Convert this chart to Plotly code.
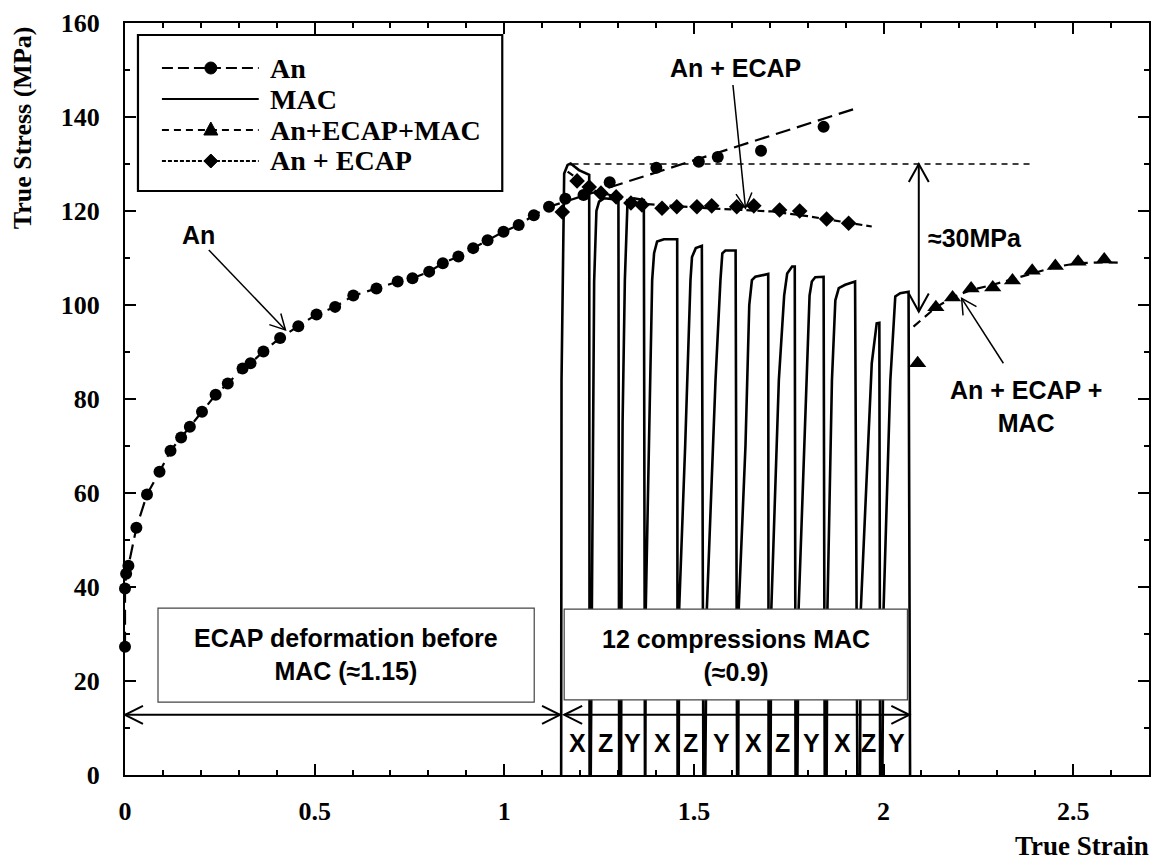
import plotly.graph_objects as go
import math

# ---------------- data ----------------
# An (annealed) : circle markers
an_x = [0.0, 0.0, 0.003, 0.009, 0.030, 0.058, 0.091, 0.120, 0.148, 0.171, 0.203, 0.239,
        0.271, 0.310, 0.331, 0.365, 0.409, 0.457, 0.505, 0.554, 0.602, 0.663, 0.719, 0.758,
        0.802, 0.838, 0.879, 0.918, 0.956, 0.998, 1.038, 1.078, 1.118, 1.161, 1.209, 1.278,
        1.401, 1.513, 1.563, 1.677, 1.842]
an_y = [27.3, 39.7, 42.8, 44.5, 52.6, 59.7, 64.5, 69.0, 71.8, 74.1, 77.3, 80.9,
        83.3, 86.5, 87.6, 90.1, 93.0, 95.5, 98.0, 99.6, 102.0, 103.5, 105.0, 105.7,
        107.1, 108.9, 110.3, 112.1, 113.8, 115.6, 117.0, 119.1, 120.9, 122.6, 123.4, 126.1,
        129.2, 130.5, 131.5, 132.8, 137.9]
# An dashed curve (through early points, then linear trend)
an_fit_x = an_x[:33] + [1.934]
an_fit_y = an_y[:33] + [142.0]

# MAC : 12 compressions (solid line)
mac_x = [1.150, 1.151, 1.158, 1.167, 1.175, 1.197, 1.224, 1.225,
         1.228, 1.231, 1.234, 1.237, 1.243, 1.250, 1.263, 1.301, 1.303,
         1.308, 1.309, 1.312, 1.318, 1.325, 1.342, 1.368, 1.371,
         1.372, 1.373, 1.382, 1.390, 1.395, 1.403, 1.421, 1.456, 1.457,
         1.460, 1.461, 1.477, 1.491, 1.495, 1.505, 1.521, 1.525,
         1.530, 1.534, 1.557, 1.570, 1.575, 1.583, 1.610, 1.614,
         1.617, 1.618, 1.636, 1.646, 1.653, 1.662, 1.696, 1.697,
         1.702, 1.704, 1.724, 1.738, 1.746, 1.759, 1.766, 1.768,
         1.773, 1.776, 1.794, 1.805, 1.811, 1.820, 1.842, 1.845,
         1.850, 1.852, 1.864, 1.873, 1.882, 1.899, 1.925, 1.931,
         1.938, 1.940, 1.969, 1.982, 1.989, 1.991,
         1.997, 2.000, 2.018, 2.031, 2.044, 2.066, 2.070]
mac_y = [0, 84, 128, 129.8, 130.1, 128.7, 127.7, 0,
         0, 35, 75, 105, 120, 122, 122.7, 122.4, 0,
         0, 35, 75, 105.3, 122, 122.7, 122.3, 0,
         0, 35, 70, 105.3, 111, 113.5, 114, 114, 0,
         0, 35, 70, 105.3, 110.2, 112.1, 112.6, 0,
         0, 35, 84, 105.3, 111, 111.6, 111.6, 0,
         0, 35, 70, 100, 105.3, 106, 106.6, 0,
         0, 35, 84, 102, 106.7, 108.2, 108.2, 0,
         0, 35, 77, 102, 105, 105.9, 106, 0,
         0, 35, 84, 101, 103.6, 104.3, 105, 0,
         0, 35, 87.6, 96.1, 96.2, 0,
         0, 35, 84, 101.8, 102.5, 102.8, 0]

# An + ECAP + MAC : triangles
tri_x = [2.090, 2.138, 2.182, 2.231, 2.288, 2.340, 2.392, 2.453, 2.513, 2.582]
tri_y = [87.6, 99.5, 101.6, 103.5, 103.7, 105.2, 107.3, 108.3, 109.2, 109.7]
tri_fit_x = [2.079, 2.138, 2.182, 2.231, 2.288, 2.340, 2.392, 2.453, 2.513, 2.582, 2.627]
tri_fit_y = [95.4, 99.5, 101.6, 103.2, 104.3, 105.5, 106.8, 108.1, 108.9, 109.1, 109.0]

# An + ECAP : diamonds
dia_x = [1.153, 1.192, 1.224, 1.255, 1.295, 1.334, 1.363, 1.416, 1.455, 1.508, 1.547,
         1.613, 1.658, 1.726, 1.779, 1.850, 1.908]
dia_y = [119.8, 126.4, 125.1, 123.8, 123.0, 121.7, 121.3, 120.6, 120.9, 120.9, 121.1,
         120.9, 121.1, 120.2, 120.0, 118.3, 117.4]
dia_fit_x = [1.167, 1.232, 1.355, 1.531, 1.706, 1.800, 1.969]
dia_fit_y = [128.4, 124.5, 121.6, 120.6, 119.9, 118.9, 116.7]

# reference level (peak stress) and drop
peak_level = 130.0
peak_x = [1.18, 2.39]
drop_x = 2.093
drop_bottom = 98.6

x_tickvals = [0, 0.5, 1, 1.5, 2, 2.5]
x_ticktext = ["0", "0.5", "1", "1.5", "2", "2.5"]
y_tickvals = [0, 20, 40, 60, 80, 100, 120, 140, 160]

sequence = ["X", "Z", "Y", "X", "Z", "Y", "X", "Z", "Y", "X", "Z", "Y"]
seq_x = [1.192, 1.268, 1.339, 1.416, 1.492, 1.574, 1.658, 1.734, 1.811, 1.892, 1.961, 2.034]

legend_names = ["An", "MAC", "An+ECAP+MAC", "An + ECAP"]
legend_dash = ["11px,5px", "solid", "7px,5px", "4px,2px"]
legend_symbol = ["circle", None, "triangle", "diamond"]

# ---------------- layout constants ----------------
W, H = 1157, 864
ML, MR, MT, MB = 125, 6, 23, 89
PW, PH = W - ML - MR, H - MT - MB
XR = [0, 2.7]
YR = [0, 160]
XS = PW / (XR[1] - XR[0])
YS = PH / (YR[1] - YR[0])

SERIF = "Liberation Serif"
SANS = "Liberation Sans"


def px_x(p):
    return (p - ML) / PW


def px_y(p):
    return (MT + PH - p) / PH


fig = go.Figure()

# data traces
fig.add_trace(go.Scatter(x=an_fit_x, y=an_fit_y, mode="lines", name="An",
                         line=dict(color="black", width=2.2, dash="15px,7px"),
                         showlegend=False, hoverinfo="skip", cliponaxis=False))
fig.add_trace(go.Scatter(x=an_x, y=an_y, mode="markers", name="An",
                         marker=dict(symbol="circle", size=12, color="black"),
                         showlegend=False, cliponaxis=False))
fig.add_trace(go.Scatter(x=mac_x, y=mac_y, mode="lines", name="MAC",
                         line=dict(color="black", width=2.6),
                         showlegend=False))
fig.add_trace(go.Scatter(x=dia_fit_x, y=dia_fit_y, mode="lines", name="An + ECAP",
                         line=dict(color="black", width=2.2, dash="7px,4px"),
                         showlegend=False, hoverinfo="skip"))
fig.add_trace(go.Scatter(x=dia_x, y=dia_y, mode="markers", name="An + ECAP",
                         marker=dict(symbol="diamond", size=12, color="black"),
                         showlegend=False))
fig.add_trace(go.Scatter(x=tri_fit_x, y=tri_fit_y, mode="lines", name="An+ECAP+MAC",
                         line=dict(color="black", width=2.2, dash="9px,6px"),
                         showlegend=False, hoverinfo="skip"))
fig.add_trace(go.Scatter(x=tri_x, y=tri_y, mode="markers", name="An+ECAP+MAC",
                         marker=dict(symbol="triangle-up", size=15, color="black"),
                         showlegend=False))
fig.add_trace(go.Scatter(x=peak_x, y=[peak_level, peak_level], mode="lines",
                         line=dict(color="black", width=1.5, dash="6px,5px"),
                         showlegend=False, hoverinfo="skip"))

shapes = []


def head(xt, yt, xf, yf, L=16, Wd=9, w=2):
    dx = (xt - xf) * XS
    dy = (yt - yf) * YS
    n = math.hypot(dx, dy)
    ux, uy = dx / n, dy / n
    bx, by = -ux * L, -uy * L
    px, py = -uy * Wd, ux * Wd
    lx, ly = xt + (bx + px) / XS, yt + (by + py) / YS
    rx, ry = xt + (bx - px) / XS, yt + (by - py) / YS
    shapes.append(dict(type="path", xref="x", yref="y", layer="above",
                       path=f"M {lx},{ly} L {xt},{yt} L {rx},{ry}",
                       line=dict(color="black", width=w)))


def arrow(x0, y0, x1, y1, both=False, w=2, L=16, Wd=9):
    shapes.append(dict(type="line", xref="x", yref="y", layer="above",
                       x0=x0, y0=y0, x1=x1, y1=y1, line=dict(color="black", width=w)))
    head(x1, y1, x0, y0, L, Wd, w)
    if both:
        head(x0, y0, x1, y1, L, Wd, w)


# text boxes
shapes.append(dict(type="rect", xref="x", yref="y", layer="above",
                   x0=0.087, x1=1.079, y0=15.5, y1=35.5,
                   line=dict(color="#444", width=1.2), fillcolor="white"))
shapes.append(dict(type="rect", xref="x", yref="y", layer="above",
                   x0=1.158, x1=2.063, y0=16.0, y1=35.3,
                   line=dict(color="#444", width=1.2), fillcolor="white"))

# horizontal double arrows
arrow(0.0, 12.8, 1.147, 12.8, both=True, w=2, L=18, Wd=9)
arrow(1.158, 12.8, 2.068, 12.8, both=True, w=2, L=18, Wd=9)
# vertical stress-drop arrow
arrow(drop_x, peak_level, drop_x, drop_bottom, both=True, w=2, L=18, Wd=10)
# callout arrows
arrow(0.221, 111.7, 0.423, 94.7, w=1.5, L=15, Wd=8)
arrow(1.603, 146.8, 1.636, 120.6, w=1.5, L=15, Wd=8)
arrow(2.316, 87.6, 2.206, 101.4, w=1.5, L=15, Wd=8)

# ---- hand-built legend (box, sample lines, symbols) ----
LEG_BOX = (138, 35, 503, 191)
leg_rows = [68, 99, 130, 161]
shapes.append(dict(type="rect", xref="paper", yref="paper", layer="above",
                   x0=px_x(LEG_BOX[0]), x1=px_x(LEG_BOX[2]),
                   y0=px_y(LEG_BOX[3]), y1=px_y(LEG_BOX[1]),
                   line=dict(color="black", width=2.2), fillcolor="white"))
sym_paths = {
    "triangle": "M -7,-5 L 7,-5 L 0,8 Z",
    "diamond": "M -7,0 L 0,7 L 7,0 L 0,-7 Z",
}
for name, dash, sym, ry in zip(legend_names, legend_dash, legend_symbol, leg_rows):
    shapes.append(dict(type="line", xref="paper", yref="paper", layer="above",
                       x0=px_x(162), x1=px_x(259), y0=px_y(ry), y1=px_y(ry),
                       line=dict(color="black", width=2.2, dash=dash)))
    if sym == "circle":
        shapes.append(dict(type="circle", xref="paper", yref="paper", layer="above",
                           xsizemode="pixel", ysizemode="pixel",
                           xanchor=px_x(211), yanchor=px_y(ry),
                           x0=-6, x1=6, y0=-6, y1=6,
                           line=dict(color="black", width=1), fillcolor="black"))
    elif sym is not None:
        shapes.append(dict(type="path", xref="paper", yref="paper", layer="above",
                           xsizemode="pixel", ysizemode="pixel",
                           xanchor=px_x(211), yanchor=px_y(ry),
                           path=sym_paths[sym],
                           line=dict(color="black", width=1), fillcolor="black"))

afont = dict(family=SANS, size=25, color="black")
annotations = [
    dict(x=0.193, y=114.9, text="<b>An</b>", showarrow=False, font=afont),
    dict(x=1.611, y=150.4, text="<b>An + ECAP</b>", showarrow=False, font=afont),
    dict(x=2.113, y=114.3, text="<b>≈30MPa</b>", showarrow=False, font=afont, xanchor="left"),
    dict(x=2.376, y=78.3, text="<b>An + ECAP +<br>MAC</b>", showarrow=False, font=afont),
    dict(x=0.583, y=25.6, text="<b>ECAP deformation before<br>MAC (≈1.15)</b>",
         showarrow=False, font=afont),
    dict(x=1.611, y=25.5, text="<b>12 compressions MAC<br>(≈0.9)</b>",
         showarrow=False, font=afont),
    dict(xref="paper", yref="paper", x=1.002, y=px_y(846), xanchor="right", yanchor="middle",
         text="<b>True Strain</b>", showarrow=False,
         font=dict(family=SERIF, size=27, color="black")),
    dict(xref="paper", yref="paper", x=px_x(22), y=px_y(128), xanchor="center", yanchor="middle",
         text="<b>True Stress (MPa)</b>", textangle=-90, showarrow=False,
         font=dict(family=SERIF, size=26, color="black")),
]
for name, ry in zip(legend_names, leg_rows):
    annotations.append(dict(xref="paper", yref="paper", x=px_x(268), y=px_y(ry),
                            xanchor="left", yanchor="middle", text=f"<b>{name}</b>",
                            showarrow=False,
                            font=dict(family=SERIF, size=28, color="black")))
for lab, xv in zip(sequence, seq_x):
    annotations.append(dict(x=xv, y=6.8, text=f"<b>{lab}</b>", showarrow=False, font=afont))

tickfont = dict(family=SERIF, size=26, color="black", weight="bold")
fig.update_layout(
    width=W, height=H,
    margin=dict(l=ML, r=MR, t=MT, b=MB),
    paper_bgcolor="white", plot_bgcolor="white",
    shapes=shapes, annotations=annotations,
    showlegend=False,
    xaxis=dict(range=XR, tickvals=x_tickvals, ticktext=x_ticktext,
               showgrid=False, zeroline=False, showline=True, linecolor="black", linewidth=2,
               mirror="ticks", ticks="inside", ticklen=11, tickwidth=2, tickcolor="black",
               tickfont=tickfont, ticklabelstandoff=12,
               minor=dict(dtick=0.1, ticks="inside", ticklen=5, tickwidth=2, tickcolor="black",
                          showgrid=False)),
    yaxis=dict(range=YR, tickvals=y_tickvals,
               showgrid=False, zeroline=False, showline=True, linecolor="black", linewidth=2,
               mirror="ticks", ticks="inside", ticklen=11, tickwidth=2, tickcolor="black",
               tickfont=tickfont, ticklabelstandoff=18,
               minor=dict(dtick=10, ticks="inside", ticklen=5, tickwidth=2, tickcolor="black",
                          showgrid=False)),
)

fig.write_html("out.html")
